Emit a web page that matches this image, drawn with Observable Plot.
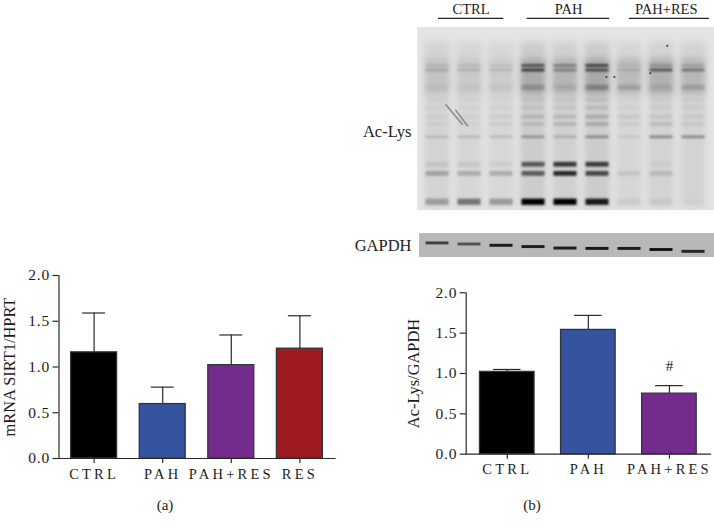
<!DOCTYPE html>
<html><head><meta charset="utf-8">
<script src="https://cdn.jsdelivr.net/npm/d3@7"></script>
<script src="https://cdn.jsdelivr.net/npm/@observablehq/plot@0.6"></script>
<style>
html,body{margin:0;padding:0;background:#fff}
#root{position:relative;width:714px;height:528px;overflow:hidden}
#root svg{position:absolute;background:none;overflow:visible}
#root .cap{position:absolute;font:15px "Liberation Serif",serif;color:#222;transform:translateX(-50%)}
[aria-label="x-axis tick label"]{letter-spacing:3.2px}
[aria-label="y-axis tick label"]{letter-spacing:.8px}
</style></head><body><div id="root"></div>
<script>
// Panel (a)
const catsA = ["CTRL","PAH","PAH+RES","RES"];
const valsA = [1.16,0.595,1.02,1.20];
const errA  = [1.59,0.78,1.35,1.56];
const colsA = ["#000000","#35539f","#732b8e","#9c1a20"];
// Panel (b)
const catsB = ["CTRL","PAH","PAH+RES"];
const valsB = [1.02,1.54,0.75];
const errB  = [1.05,1.72,0.85];
const colsB = ["#000000","#35539f","#732b8e"];
const yTicks = [0,0.5,1,1.5,2];
// Blot: lanes, band rows (migration position, thickness, intensity per lane)
const lanes = [1,2,3,4,5,6,7,8,9];
const groupNames = ["CTRL","PAH","PAH+RES"];
const groupStart = [1.03,3.8,7.0];
const groupEnd   = [3.07,6.38,9.5];
const groupMid   = [2.05,5.1,8.15];
const laneSmear  = [.07,.06,.055,.10,.085,.10,.06,.075,.07];
const topSmear   = [.07,.06,.05,.16,.13,.17,.13,.16,.13];
const bandPos    = [21,23.5,33,40,44,49,53,60,75,80,95.5];
const bandThick  = [.7,.8,1.5,1,1,1.1,1,.7,1.3,1.3,1.7];
const bandLevels = [
  [.10,.10,.08,.60,.34,.70,.05,.22,.16],
  [.16,.12,.10,.68,.32,.60,.10,.52,.38],
  [.04,.03,.04,.18,.08,.25,.14,.08,.14],
  [.02,.02,.02,.06,.06,.08,.02,.03,.03],
  [.02,.02,.03,.07,.07,.09,.03,.04,.04],
  [.03,.03,.05,.12,.12,.16,.07,.07,.05],
  [.03,.03,.06,.11,.14,.18,.05,.11,.06],
  [.14,.14,.14,.30,.18,.34,.08,.38,.38],
  [.07,.07,.05,.58,.74,.72,.00,.03,.00],
  [.24,.20,.20,.56,.82,.66,.08,.12,.00],
  [.26,.45,.28,1.0,1.0,.88,.05,.05,.01]
];
const gapdhPos   = [118,118.6,119.3,120,120.8,121,121,121.6,122.6];
const gapdhLevel = [.65,.55,.85,.85,.85,.88,.85,.9,.8];
// Blot artefacts: scratches in lanes 1-2, dark specks
const scratchL1 = [1.25,1.56], scratchL2 = [1.78,1.95];
const scratchM1 = [42,45],     scratchM2 = [53,54];
const speckL = [6.53,6.28,7.65,8.18], speckM = [27,27,25,10];

const root = document.getElementById("root");
const serif = "Liberation Serif";
const ink = "#2a2a2a";

function barPanel({cats,vals,errs,cols,label,left,top,width,height,marginLeft,marginRight,marginTop,marginBottom,pi,po,inset,labelOffset,extra=[]}){
  const rows = cats.map((c,i)=>({c,v:vals[i],e:errs[i],col:cols[i]}));
  const p = Plot.plot({
    width,height,marginLeft,marginRight,marginTop,marginBottom,
    style:{fontFamily:serif,background:"none",color:"#1c1c1c",overflow:"visible"},
    x:{type:"band",domain:cats,paddingInner:pi,paddingOuter:po,round:false,label:null},
    y:{domain:[0,2],label:null},
    color:{type:"identity"},
    marks:[
      Plot.ruleX(rows,{x:"c",y1:"v",y2:"e",stroke:ink,strokeWidth:1.2}),
      Plot.tickY(rows,{x:"c",y:"e",stroke:ink,strokeWidth:1.2,inset}),
      Plot.barY(rows,{x:"c",y:"v",fill:"col",stroke:"#33333a",strokeWidth:1.3}),
      Plot.frame({anchor:"bottom",stroke:ink,strokeWidth:1.2}),
      Plot.frame({anchor:"left",stroke:ink,strokeWidth:1.2}),
      Plot.axisX({tickSize:5,tickPadding:5,fontSize:14.5,stroke:ink,strokeWidth:1.2}),
      Plot.axisY({ticks:yTicks,tickFormat:d3.format(".1f"),tickSize:6,tickPadding:3,fontSize:15.5,stroke:ink,strokeWidth:1.2}),
      Plot.axisY({ticks:[],tickSize:0,fontSize:16.4,label,labelAnchor:"center",labelArrow:"none",labelOffset}),
      ...extra
    ]
  });
  p.style.left=left+"px"; p.style.top=top+"px";
  root.appendChild(p);
}

barPanel({cats:catsA,vals:valsA,errs:errA,cols:colsA,label:"mRNA SIRT1/HPRT",
  left:0,top:260,width:340,height:268,marginLeft:58.5,marginRight:5.5,marginTop:15,marginBottom:70,
  pi:.33,po:.177,inset:11.5,labelOffset:56});

barPanel({cats:catsB,vals:valsB,errs:errB,cols:colsB,label:"Ac-Lys/GAPDH",
  left:350,top:270,width:364,height:258,marginLeft:115.7,marginRight:4,marginTop:22.3,marginBottom:74.3,
  pi:.327,po:.17,inset:13.5,labelOffset:59,
  extra:[Plot.text(["#"],{x:()=>"PAH+RES",y:()=>1.09,fontSize:15,fill:"#222"})]});

// Western blot image
const laneRows = lanes.map((l,i)=>({l,a:laneSmear[i],t:topSmear[i],w:.40}));
const bands = bandPos.flatMap((m,r)=>lanes.map((l,i)=>({l,m,h:bandThick[r],o:bandLevels[r][i]})));
const gap = lanes.map((l,i)=>({l,m:gapdhPos[i],o:gapdhLevel[i]}));
const scratches = [0,1].map(i=>({x1:scratchL1[i],x2:scratchL2[i],y1:scratchM1[i],y2:scratchM2[i]}));
const specks = speckL.map((l,i)=>({l,m:speckM[i]}));
const blot = Plot.plot({
  width:364,height:270,margin:0,
  style:{fontFamily:serif,background:"none",overflow:"visible"},
  x:{domain:[-1.71875,9.65625],range:[0,364],axis:null},
  y:{domain:[-14.75,132.8],range:[0,270],axis:null},
  marks:[
    Plot.rect([0],{x1:()=>.38,x2:()=>9.656,y1:()=>0,y2:()=>100,fill:"#e4e4e4"}),
    Plot.rect(laneRows,{x1:d=>d.l-d.w,x2:d=>d.l+d.w,y1:()=>8,y2:()=>99,fill:"#000",fillOpacity:"a",imageFilter:"blur(3px)"}),
    Plot.rect(laneRows,{x1:d=>d.l-d.w,x2:d=>d.l+d.w,y1:()=>17,y2:()=>37,fill:"#000",fillOpacity:"t",imageFilter:"blur(3px)"}),
    Plot.rect(bands,{x1:d=>d.l-.36,x2:d=>d.l+.36,y1:d=>d.m-d.h,y2:d=>d.m+d.h,fill:"#000",fillOpacity:"o",imageFilter:"blur(1.2px)"}),
    Plot.link(scratches,{x1:"x1",x2:"x2",y1:"y1",y2:"y2",stroke:"#888",strokeWidth:1.5,imageFilter:"blur(.7px)"}),
    Plot.dot(specks,{x:"l",y:"m",r:1,fill:"#333"}),
    Plot.rect([0],{x1:()=>.44,x2:()=>9.656,y1:()=>112.6,y2:()=>125.7,fill:"#b8b8b8"}),
    Plot.rect(gap,{x1:d=>d.l-.36,x2:d=>d.l+.36,y1:d=>d.m-.8,y2:d=>d.m+.8,fill:"#000",fillOpacity:"o",imageFilter:"blur(.7px)"}),
    Plot.ruleY(groupNames,{y:()=>-5,x1:(d,i)=>groupStart[i],x2:(d,i)=>groupEnd[i],stroke:"#222",strokeWidth:1.2}),
    Plot.text(groupNames,{x:(d,i)=>groupMid[i],y:()=>-9.9,text:d=>d,fontSize:14.5,fill:"#222"}),
    Plot.text(["Ac-Lys"],{x:()=>.1875,y:()=>56.8,text:d=>d,textAnchor:"end",fontSize:16.5,fill:"#222"}),
    Plot.text(["GAPDH"],{x:()=>.1875,y:()=>119,text:d=>d,textAnchor:"end",fontSize:16.5,fill:"#222"})
  ]
});
blot.style.left="350px"; blot.style.top="0px";
root.appendChild(blot);

for (const [t,x,y] of [["(a)",165,497],["(b)",532,497]]) {
  const c=document.createElement("div"); c.className="cap"; c.textContent=t;
  c.style.left=x+"px"; c.style.top=y+"px"; root.appendChild(c);
}
</script></body></html>
